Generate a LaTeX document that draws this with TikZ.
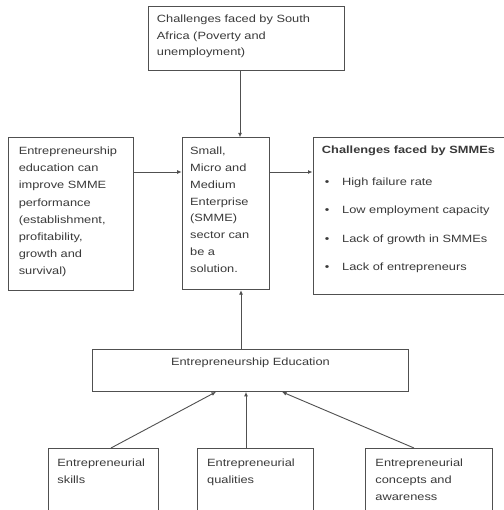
\documentclass[tikz,border=0pt]{standalone}
\usepackage{fontspec}
\setmainfont{Liberation Sans}[FakeStretch=1.22]
\usetikzlibrary{arrows.meta}
\definecolor{txtc}{HTML}{3A3A3A}
\definecolor{lnc}{HTML}{505050}
% width, height, left pad, first baseline offset, baselineskip, content
\newcommand\ltbox[6]{\parbox[t][#2][t]{#1}{\raggedright\leftskip=#3\relax\baselineskip=#5\relax\vspace*{\dimexpr#4-10pt\relax}\rule{0pt}{10pt}#6}}
% width, height, first baseline offset, content
\newcommand\ctbox[4]{\parbox[t][#2][t]{#1}{\centering\vspace*{\dimexpr#3-10pt\relax}\rule{0pt}{10pt}#4}}
\begin{document}
\begin{tikzpicture}[x=1pt,y=-1pt,
  font=\fontsize{10.5}{17}\selectfont,
  boxst/.style={draw=lnc, line width=0.9pt, inner sep=0pt, anchor=north west, text=txtc},
  arr/.style={draw=lnc, line width=0.9pt, -{Latex[length=4.5pt,width=4pt]}}]
\useasboundingbox (0,0) rectangle (503,510);
\fill[white] (0,0) rectangle (503,510);

\node[boxst] (top) at (147.5,6.5) {\ltbox{196.5pt}{63.5pt}{9pt}{16pt}{16.5pt}{Challenges faced by South\\Africa (Poverty and\\unemployment)}};

\node[boxst] (left) at (8.3,137.3) {\ltbox{125pt}{152.7pt}{10pt}{16.7pt}{17.2pt}{Entrepreneurship\\education can\\improve SMME\\performance\\(establishment,\\profitability,\\growth and\\survival)}};

\node[boxst] (mid) at (181.7,137.3) {\ltbox{87.5pt}{152pt}{8pt}{17pt}{16.8pt}{Small,\\Micro and\\Medium\\Enterprise\\(SMME)\\sector can\\be a\\solution.}};

\node[boxst] (right) at (312.5,137.5) {\ltbox{191.5pt}{156pt}{9pt}{15.3pt}{17pt}{{\bfseries Challenges faced by SMMEs}\\[15.2pt]
\hspace*{3pt}\makebox[17.2pt][l]{\textbullet}High failure rate\\[11.3pt]
\hspace*{3pt}\makebox[17.2pt][l]{\textbullet}Low employment capacity\\[11.3pt]
\hspace*{3pt}\makebox[17.2pt][l]{\textbullet}Lack of growth in SMMEs\\[11.3pt]
\hspace*{3pt}\makebox[17.2pt][l]{\textbullet}Lack of entrepreneurs}};

\node[boxst] (ee) at (91.7,349.3) {\ctbox{316.6pt}{41.7pt}{16.2pt}{Entrepreneurship Education}};

\node[boxst] (b1) at (48,448) {\ltbox{110pt}{66pt}{9pt}{18.5pt}{17pt}{Entrepreneurial\\skills}};
\node[boxst] (b2) at (197,448) {\ltbox{116pt}{66pt}{9.7pt}{18.5pt}{17pt}{Entrepreneurial\\qualities}};
\node[boxst] (b3) at (365,448) {\ltbox{127pt}{66pt}{10pt}{18.5pt}{17pt}{Entrepreneurial\\concepts and\\awareness}};

\draw[arr] (top.south -| 240,0) -- (mid.north -| 240,0);
\draw[arr] (left.east |- 0,172) -- (mid.west |- 0,172);
\draw[arr] (mid.east |- 0,172) -- (right.west |- 0,172);
\draw[arr] (ee.north -| 241,0) -- (mid.south -| 241,0);
\draw[arr] (b1.north -| 111,0) -- (ee.south -| 216,0);
\draw[arr] (b2.north -| 246,0) -- (ee.south -| 246,0);
\draw[arr] (b3.north -| 414,0) -- (ee.south -| 282,0);
\end{tikzpicture}
\end{document}
